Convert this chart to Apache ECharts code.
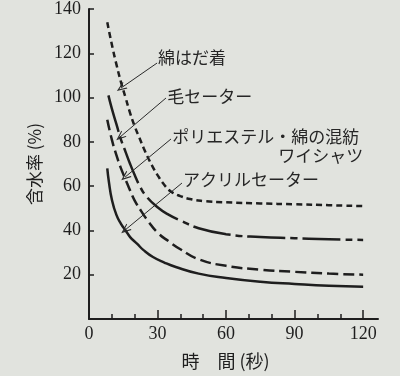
<!DOCTYPE html>
<html>
<head>
<meta charset="utf-8">
<script src="https://cdn.jsdelivr.net/npm/echarts@6/dist/echarts.min.js"></script>
<style>
html, body { margin: 0; padding: 0; background: #e1e3de; }
#chart { width: 400px; height: 376px; }
</style>
</head>
<body>
<div id="chart"></div>
<script>
// 時間(秒) / 含水率(%)
var cottonT = [8, 10, 12, 14, 16, 18, 20, 22, 24, 26, 28, 30, 33, 36, 40, 45, 50, 60, 75, 90, 105, 120];
var cottonW = [134, 124, 115, 107, 100, 93, 87, 82, 77, 72.5, 68.5, 65, 60.5, 57.5, 55.5, 54, 53.3, 52.7, 52.2, 51.8, 51.4, 51];
var woolT = [8.5, 10, 12, 14, 16, 18, 20, 22, 25, 30, 35, 40, 48, 60, 75, 90, 105, 120];
var woolW = [101, 95, 88, 81, 75.5, 70, 65, 60.5, 55.5, 50.5, 47, 44.5, 41, 38.3, 37, 36.5, 36, 35.7];
var blendT = [8, 10, 12, 14, 16, 18, 20, 23, 26, 30, 35, 40, 48, 60, 75, 90, 105, 120];
var blendW = [90, 81, 74, 68, 63, 58, 53.5, 48.5, 44, 39, 35, 31.5, 27, 24, 22.3, 21.3, 20.5, 20];
var acrylT = [8, 8.7, 10, 12, 14, 16, 18, 21, 24, 28, 33, 38, 48, 60, 75, 90, 105, 120];
var acrylW = [68, 62, 54, 47, 43, 40, 37, 34, 31, 28, 25.5, 23.5, 20.5, 18.5, 16.8, 15.8, 15, 14.6];

var names = ['綿はだ着', '毛セーター', 'ポリエステル・綿の混紡', 'アクリルセーター'];
var dashes = [[6, 4], [38, 5, 7, 5], [11, 5], 'solid'];

// annotation text and arrows (data coords)
var labelT = [30.2, 34.2, 36.4, 41.2];
var labelW = [118, 100.3, 82.2, 62.8];
var arrowFromT = [29.8, 33.7, 35.9, 40.7];
var arrowFromW = [115.6, 99.8, 81.3, 61.4];
var arrowToT = [14.0, 13.6, 15.8, 15.8];
var arrowToW = [104.3, 82.2, 64.1, 40.2];

var xTicksMajor = [30, 60, 90, 120];
var xTicksMinor = [10, 20, 40, 50, 70, 80, 100, 110];
var xLabels = [0, 30, 60, 90, 120];
var yTicks = [20, 40, 60, 80, 100, 120, 140];

var ink = '#1e1e1e';
var txtFont = '"Noto Sans CJK JP"';
var numFont = '"Liberation Serif"';

function pairs (t, w) {
  return t.map(function (v, i) { return [v, w[i]] })
}

var seriesData = [pairs(cottonT, cottonW), pairs(woolT, woolW), pairs(blendT, blendW), pairs(acrylT, acrylW)];

var series = seriesData.map(function (d, i) {
  var marks = [{
    coord: [labelT[i], labelW[i]],
    label: { formatter: names[i], position: 'right' }
  }];
  if (i === 2) {
    marks.push({
      coord: [120, 74],
      label: { formatter: 'ワイシャツ', position: 'left' }
    });
  }
  return {
    type: 'line',
    name: names[i],
    data: d,
    smooth: 0.5,
    showSymbol: false,
    symbol: 'none',
    lineStyle: { color: ink, width: 2.5, type: dashes[i] },
    silent: true,
    markPoint: {
      symbol: 'rect',
      symbolSize: 0,
      silent: true,
      label: {
        show: true,
        distance: 0,
        color: '#262626',
        fontFamily: txtFont,
        fontSize: 17
      },
      data: marks
    },
    markLine: {
      silent: true,
      symbol: ['none', 'path://M0,10 L5,0 L10,10 L8.6,10 L5,3 L1.4,10 Z'],
      symbolSize: [8, 10],
      lineStyle: { color: '#2a2a2a', width: 1, type: 'solid' },
      label: { show: false },
      data: [[
        { coord: [arrowFromT[i], arrowFromW[i]] },
        { coord: [arrowToT[i], arrowToW[i]] }
      ]]
    }
  }
});

var chart = echarts.init(document.getElementById('chart'));
chart.setOption({
  backgroundColor: '#e1e3de',
  animation: false,
  grid: { left: 89, right: 22, top: 9, bottom: 57 },
  xAxis: [{
    type: 'value',
    min: 0,
    max: 126.5,
    position: 'bottom',
    name: '時　間 (秒)',
    nameLocation: 'middle',
    nameGap: 33,
    nameTextStyle: { color: ink, fontFamily: txtFont, fontSize: 18, padding: [0, 16, 0, 0] },
    axisLine: { lineStyle: { color: ink, width: 2 } },
    axisTick: { inside: true, length: 5, customValues: xTicksMinor, lineStyle: { color: ink, width: 1.5 } },
    axisLabel: { customValues: xLabels, color: ink, fontFamily: numFont, fontSize: 18, margin: 6 },
    splitLine: { show: false }
  }, {
    type: 'value',
    min: 0,
    max: 126.5,
    position: 'bottom',
    axisLine: { show: false },
    axisTick: { inside: true, length: 9, customValues: xTicksMajor, lineStyle: { color: ink, width: 1.5 } },
    axisLabel: { show: false },
    splitLine: { show: false }
  }],
  yAxis: {
    type: 'value',
    min: 0,
    max: 140,
    interval: 20,
    name: '含水率 (%)',
    nameLocation: 'middle',
    nameGap: 39,
    nameTextStyle: { color: ink, fontFamily: txtFont, fontSize: 17 },
    axisLine: { show: true, lineStyle: { color: ink, width: 2 } },
    axisTick: { show: true, inside: true, length: 5, customValues: yTicks, lineStyle: { color: ink, width: 1.5 } },
    axisLabel: { customValues: yTicks, color: ink, fontFamily: numFont, fontSize: 18, margin: 8 },
    splitLine: { show: false }
  },
  series: series
});
</script>
</body>
</html>
